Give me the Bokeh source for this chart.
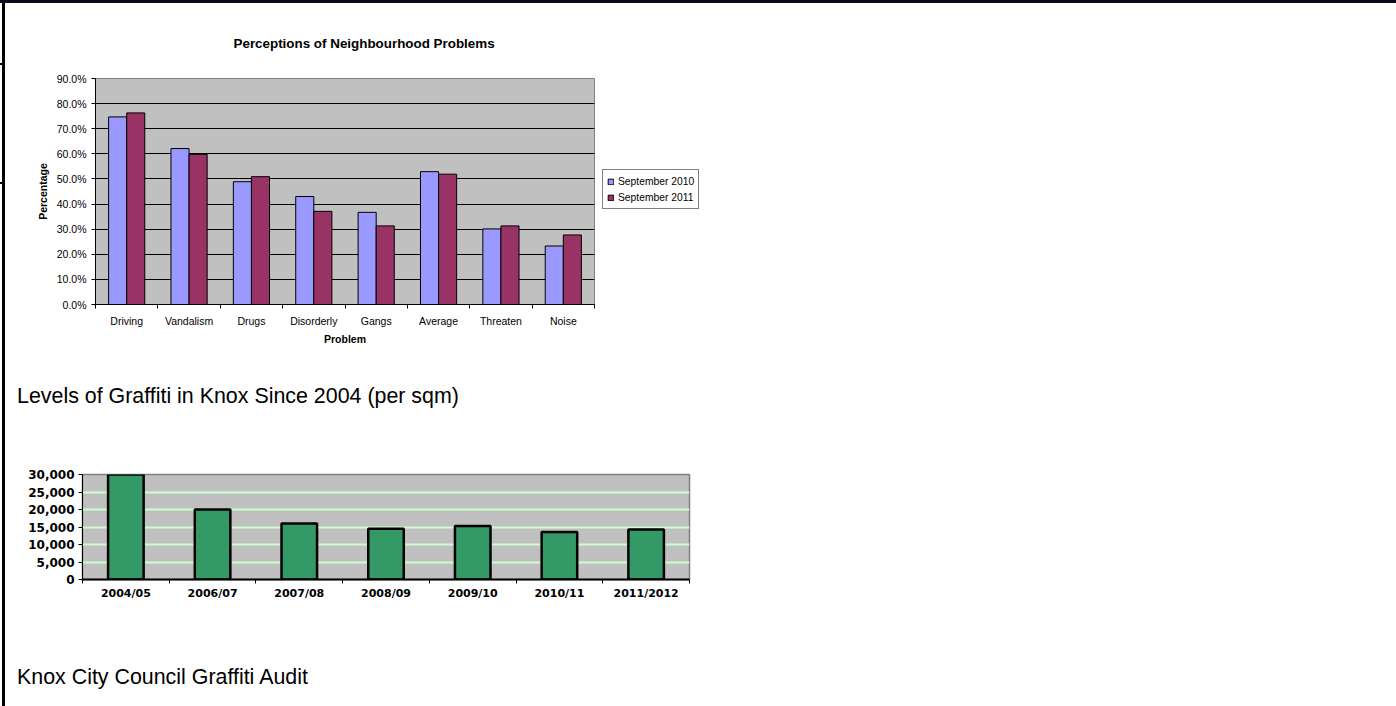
from bokeh.plotting import figure
from bokeh.models import (ColumnDataSource, FixedTicker, PrintfTickFormatter,
                          NumeralTickFormatter, Legend, LegendItem, Div, Range1d)
from bokeh.layouts import column, row
from bokeh.transform import dodge
from bokeh.embed import file_html
from bokeh.resources import INLINE

# ---------------- data ----------------
problems = ["Driving", "Vandalism", "Drugs", "Disorderly", "Gangs", "Average", "Threaten", "Noise"]
sep_2010 = [74.7, 62.1, 48.9, 43.0, 36.7, 52.9, 30.1, 23.3]
sep_2011 = [76.3, 59.8, 50.9, 37.1, 31.3, 51.9, 31.3, 27.7]
pct_ticks = [0, 10, 20, 30, 40, 50, 60, 70, 80, 90]

years = ["2004/05", "2006/07", "2007/08", "2008/09", "2009/10", "2010/11", "2011/2012"]
graffiti = [30000, 20000, 16000, 14500, 15300, 13600, 14300]
graffiti_ticks = [0, 5000, 10000, 15000, 20000, 25000, 30000]

FONT = "Liberation Sans"

# ---------------- chart 1 ----------------
n1 = len(problems)
centers1 = [i + 0.5 for i in range(n1)]
src1 = ColumnDataSource(dict(x=centers1, problem=problems, y2010=sep_2010, y2011=sep_2011))

p1 = figure(frame_width=499, frame_height=226,
            x_range=Range1d(0, n1), y_range=Range1d(0, 90),
            min_border_left=90, min_border_right=126, min_border_top=75, min_border_bottom=56,
            title="Perceptions of Neighbourhood Problems",
            output_backend="svg", toolbar_location=None)
p1.title.align = "left"
p1.title.offset = 138
p1.title.standoff = 55
p1.title.text_font = FONT
p1.title.text_font_size = "13.4px"
p1.title.text_font_style = "bold"
p1.title.text_color = "black"

r10 = p1.vbar(x=dodge("x", -0.145), top="y2010", width=0.29, source=src1,
              fill_color="#9999ff", line_color="black", line_width=1)
r11 = p1.vbar(x=dodge("x", 0.145), top="y2011", width=0.29, source=src1,
              fill_color="#993366", line_color="black", line_width=1)

p1.background_fill_color = "#c0c0c0"
p1.border_fill_color = "white"
p1.outline_line_color = "#808080"
p1.xgrid.visible = False
p1.ygrid.grid_line_color = "black"
p1.ygrid.grid_line_width = 1

xa1 = p1.xaxis[0]
xa1.ticker = FixedTicker(ticks=centers1, minor_ticks=list(range(n1 + 1)))
xa1.major_label_overrides = {c: name for c, name in zip(centers1, problems)}
xa1.major_tick_out = 0
xa1.major_tick_in = 0
xa1.minor_tick_out = 4
xa1.minor_tick_in = 0
xa1.minor_tick_line_color = "black"
xa1.axis_line_color = "black"
xa1.major_label_standoff = 6
xa1.major_label_text_font = FONT
xa1.major_label_text_font_size = "10.5px"
xa1.major_label_text_color = "black"
xa1.axis_label = "Problem"
xa1.axis_label_text_font = FONT
xa1.axis_label_text_font_size = "10.5px"
xa1.axis_label_text_font_style = "bold"
xa1.axis_label_text_color = "black"
xa1.axis_label_standoff = 3

ya1 = p1.yaxis[0]
ya1.ticker = FixedTicker(ticks=pct_ticks)
ya1.formatter = PrintfTickFormatter(format="%.1f%%")
ya1.major_tick_out = 4
ya1.major_tick_in = 0
ya1.major_tick_line_color = "black"
ya1.axis_line_color = "black"
ya1.major_label_standoff = 5
ya1.major_label_text_font = FONT
ya1.major_label_text_font_size = "10.5px"
ya1.major_label_text_color = "black"
ya1.axis_label = "Percentage"
ya1.axis_label_text_font = FONT
ya1.axis_label_text_font_size = "10.5px"
ya1.axis_label_text_font_style = "bold"
ya1.axis_label_text_color = "black"
ya1.axis_label_standoff = 5

legend = Legend(items=[LegendItem(label="September 2010", renderers=[r10]),
                       LegendItem(label="September 2011", renderers=[r11])],
                location=(8, 95), margin=0, padding=4, spacing=2,
                glyph_width=7, glyph_height=7, label_standoff=4, label_height=14,
                label_text_font=FONT, label_text_font_size="10.3px", label_text_color="black",
                border_line_color="black", border_line_width=1,
                background_fill_color="white", background_fill_alpha=1)
p1.add_layout(legend, "right")

# ---------------- chart 2 ----------------
n2 = len(years)
centers2 = [i + 0.5 for i in range(n2)]
src2 = ColumnDataSource(dict(x=centers2, year=years, level=graffiti))

p2 = figure(frame_width=607, frame_height=105,
            x_range=Range1d(0, n2), y_range=Range1d(0, 30000),
            min_border_left=76, min_border_right=31, min_border_top=54, min_border_bottom=41,
            output_backend="svg", toolbar_location=None)
p2.vbar(x="x", top="level", width=0.41, source=src2,
        fill_color="#339966", line_color="black", line_width=2.5)
p2.background_fill_color = "#c0c0c0"
p2.border_fill_color = "white"
p2.outline_line_color = "#808080"
p2.outline_line_width = 1.5
p2.xgrid.visible = False
p2.ygrid.grid_line_color = "#ccffcc"
p2.ygrid.grid_line_width = 2

xa2 = p2.xaxis[0]
xa2.ticker = FixedTicker(ticks=centers2, minor_ticks=list(range(n2 + 1)))
xa2.major_label_overrides = {c: name for c, name in zip(centers2, years)}
xa2.major_tick_out = 0
xa2.major_tick_in = 0
xa2.minor_tick_out = 4
xa2.minor_tick_in = 0
xa2.minor_tick_line_color = "black"
xa2.axis_line_color = "black"
xa2.axis_line_width = 2
xa2.major_label_standoff = 3
xa2.major_label_text_font = "DejaVu Sans"
xa2.major_label_text_font_size = "11px"
xa2.major_label_text_font_style = "bold"
xa2.major_label_text_color = "black"

ya2 = p2.yaxis[0]
ya2.ticker = FixedTicker(ticks=graffiti_ticks)
ya2.formatter = NumeralTickFormatter(format="0,0")
ya2.major_tick_out = 4
ya2.major_tick_in = 0
ya2.major_tick_line_color = "black"
ya2.axis_line_color = "black"
ya2.major_label_standoff = 4
ya2.major_label_text_font = "DejaVu Sans"
ya2.major_label_text_font_size = "12px"
ya2.major_label_text_font_style = "bold"
ya2.major_label_text_color = "black"

# ---------------- page ----------------
TXT = ("<div style=\"padding:{pt}px 0 0 12px;font-family:'Liberation Sans',Arial,sans-serif;"
       "font-size:21.4px;line-height:24px;color:#000;white-space:nowrap;\">{t}</div>")
div1 = Div(text=TXT.format(pt=24, t="Levels of Graffiti in Knox Since 2004 (per sqm)"),
           width=715, height=60, margin=0)
div2 = Div(text=TXT.format(pt=45, t="Knox City Council Graffiti Audit"),
           width=715, height=80, margin=0)

p2_box = row(Div(text="", width=1, height=200, margin=0), p2, spacing=0)
content = column(p1, div1, p2_box, div2, spacing=0)
top_line = Div(text="", width=1396, height=3, margin=0,
               styles={"background-color": "#0b0b1e"})
marks = ('<div style="position:relative;width:2px;height:703px;">'
         '<div style="position:absolute;left:0;top:60px;width:2px;height:2px;background:#000;"></div>'
         '<div style="position:absolute;left:0;top:179px;width:2px;height:2px;background:#000;"></div>'
         '</div>')
gap = Div(text=marks, width=2, height=703, margin=0)
left_line = Div(text="", width=3, height=703, margin=0,
                styles={"background-color": "#000000"})
root = column(top_line, row(gap, left_line, content, spacing=0), spacing=0)

open("out.html", "w").write(file_html(root, INLINE))
